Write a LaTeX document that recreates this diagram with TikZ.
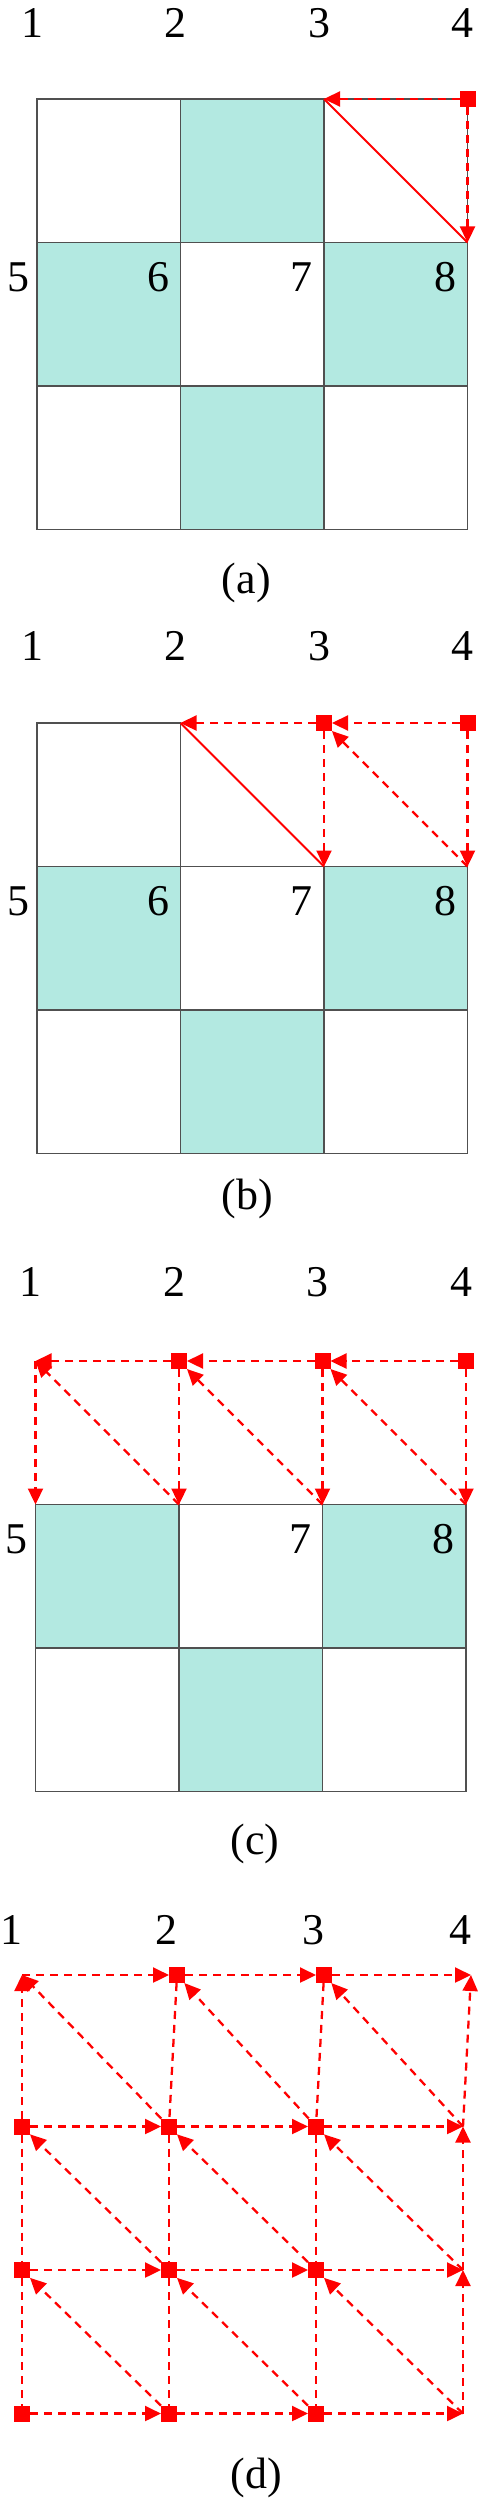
\documentclass[tikz,border=0pt]{standalone}
\usepackage{fontspec}
\setmainfont{Liberation Serif}
\usetikzlibrary{positioning}
\usetikzlibrary{arrows.meta}
\definecolor{aqua}{RGB}{179,233,225}
\definecolor{gridc}{RGB}{80,80,80}

\begin{document}
\begin{tikzpicture}[node distance=2.87cm, on grid,
        cell/.style={draw=gridc, line width=1.1pt, minimum size=2.87cm, inner sep=0pt, outer sep=0pt},
        filled/.style={cell, fill=aqua},
        num/.style={font=\fontsize{25}{30}\selectfont, inner sep=0pt},
        redsq/.style={fill=red, minimum size=0.32cm, inner sep=0pt, outer sep=0pt},
        arr/.style={-{Triangle[length=0.32cm, width=0.3cm]}},
        dline/.style={red, line width=1.3pt, dash pattern=on 0.16cm off 0.12cm},
        sline/.style={red, line width=1.1pt}]
        \useasboundingbox (0,0) rectangle (9.58,-50);

        % (a)
        \node[cell] (a11) at (2.175,-3.415) {};
        \node[filled, right=of a11] (a12) {};
        \node[cell, right=of a12] (a13) {};
        \node[filled, below=of a11] (a21) {};
        \node[cell, right=of a21] (a22) {};
        \node[filled, right=of a22] (a23) {};
        \node[cell, below=of a21] (a31) {};
        \node[filled, right=of a31] (a32) {};
        \node[cell, right=of a32] (a33) {};

        \node[num, above left=1.52cm and 0.1cm of a11.north west, anchor=center] (a-l1) {1};
        \node[num, above left=1.52cm and 0.1cm of a11.north east, anchor=center] (a-l2) {2};
        \node[num, above left=1.52cm and 0.1cm of a12.north east, anchor=center] (a-l3) {3};
        \node[num, above left=1.52cm and 0.1cm of a13.north east, anchor=center] (a-l4) {4};
        \node[num, below left=0.69cm and 0.38cm of a21.north west, anchor=center] (a-l5) {5};
        \node[num, below left=0.69cm and 0.45cm of a21.north east, anchor=center] (a-l6) {6};
        \node[num, below left=0.69cm and 0.45cm of a22.north east, anchor=center] (a-l7) {7};
        \node[num, below left=0.69cm and 0.45cm of a23.north east, anchor=center] (a-l8) {8};
        \node[num, below left=1.06cm and 0.12cm of a32.south, anchor=center] (a-cap) {(a)};

        \node[redsq] (a4) at (a13.north east) {};
        \coordinate (a3) at (a12.north east);
        \coordinate (a8) at (a23.north east);
        \path[dline, arr] (a4) edge (a3) (a4) edge (a8);
        \draw[sline] (a3) -- (a8);

        % (b)
        \node[cell] (b11) at (2.175,-15.895) {};
        \node[filled, below=of b11] (b21) {};
        \node[cell, right=of b21] (b22) {};
        \node[filled, right=of b22] (b23) {};
        \node[cell, below=of b21] (b31) {};
        \node[filled, right=of b31] (b32) {};
        \node[cell, right=of b32] (b33) {};

        \coordinate (b2) at (b11.north east);
        \node[redsq] (b3) at ([yshift=2.87cm]b22.north east) {};
        \node[redsq] (b4) at ([yshift=2.87cm]b23.north east) {};
        \coordinate (b7) at (b22.north east);
        \coordinate (b8) at (b23.north east);

        \node[num, above left=1.54cm and 0.1cm of b11.north west, anchor=center] (b-l1) {1};
        \node[num, above left=1.54cm and 0.1cm of b2, anchor=center] (b-l2) {2};
        \node[num, above left=1.54cm and 0.1cm of b3.center, anchor=center] (b-l3) {3};
        \node[num, above left=1.54cm and 0.1cm of b4.center, anchor=center] (b-l4) {4};
        \node[num, below left=0.69cm and 0.38cm of b21.north west, anchor=center] (b-l5) {5};
        \node[num, below left=0.69cm and 0.45cm of b21.north east, anchor=center] (b-l6) {6};
        \node[num, below left=0.69cm and 0.45cm of b22.north east, anchor=center] (b-l7) {7};
        \node[num, below left=0.69cm and 0.45cm of b23.north east, anchor=center] (b-l8) {8};
        \node[num, below left=0.9cm and 0.1cm of b32.south, anchor=center] (b-cap) {(b)};

        \path[dline, arr] (b4) edge (b3) (b3) edge (b2)
            (b4) edge (b8) (b3) edge (b7) (b8) edge (b3);
        \draw[sline] (b2) -- (b7);

        % (c)
        \node[filled] (c21) at (2.145,-31.525) {};
        \node[cell, right=of c21] (c22) {};
        \node[filled, right=of c22] (c23) {};
        \node[cell, below=of c21] (c31) {};
        \node[filled, right=of c31] (c32) {};
        \node[cell, right=of c32] (c33) {};

        \coordinate (c1) at ([yshift=2.87cm]c21.north west);
        \node[redsq] (c2) at ([yshift=2.87cm]c21.north east) {};
        \node[redsq] (c3) at ([yshift=2.87cm]c22.north east) {};
        \node[redsq] (c4) at ([yshift=2.87cm]c23.north east) {};
        \coordinate (c5) at (c21.north west);
        \coordinate (c6) at (c21.north east);
        \coordinate (c7) at (c22.north east);
        \coordinate (c8) at (c23.north east);

        \node[num, above left=1.58cm and 0.1cm of c1, anchor=center] (c-l1) {1};
        \node[num, above left=1.58cm and 0.1cm of c2.center, anchor=center] (c-l2) {2};
        \node[num, above left=1.58cm and 0.1cm of c3.center, anchor=center] (c-l3) {3};
        \node[num, above left=1.58cm and 0.1cm of c4.center, anchor=center] (c-l4) {4};
        \node[num, below left=0.69cm and 0.38cm of c5, anchor=center] (c-l5) {5};
        \node[num, below left=0.69cm and 0.45cm of c7, anchor=center] (c-l7) {7};
        \node[num, below left=0.69cm and 0.45cm of c8, anchor=center] (c-l8) {8};
        \node[num, below right=1.04cm and 0.08cm of c32.south, anchor=center] (c-cap) {(c)};

        \path[dline, arr] (c4) edge (c3) (c3) edge (c2) (c2) edge (c1)
            (c1) edge (c5) (c2) edge (c6) (c3) edge (c7) (c4) edge (c8)
            (c6) edge (c1) (c7) edge (c2) (c8) edge (c3);

        % (d)
        \coordinate (d11) at (0.44,-39.5);
        \node[redsq, right=2.94cm of d11] (d12) {};
        \node[redsq, right=2.94cm of d12] (d13) {};
        \coordinate[right=2.94cm of d13] (d14);
        \node[redsq, below=of d11] (d21) {};
        \node[redsq, right=2.94cm of d21] (d22) {};
        \node[redsq, right=2.94cm of d22] (d23) {};
        \coordinate[right=2.94cm of d23] (d24);
        \node[redsq, below=of d21] (d31) {};
        \node[redsq, right=2.94cm of d31] (d32) {};
        \node[redsq, right=2.94cm of d32] (d33) {};
        \coordinate[right=2.94cm of d33] (d34);
        \node[redsq, below=of d31] (d41) {};
        \node[redsq, right=2.94cm of d41] (d42) {};
        \node[redsq, right=2.94cm of d42] (d43) {};
        \coordinate[right=2.94cm of d43] (d44);

        \node[num, above left=0.9cm and 0.21cm of d11, anchor=center] (d-l1) {1};
        \node[num, above left=0.9cm and 0.21cm of d12.center, anchor=center] (d-l2) {2};
        \node[num, above left=0.9cm and 0.21cm of d13.center, anchor=center] (d-l3) {3};
        \node[num, above left=0.9cm and 0.21cm of d14, anchor=center] (d-l4) {4};
        \node[num, below right=1.29cm and 1.75cm of d42.center, anchor=center] (d-cap) {(d)};

        % rows
        \path[dline, arr] (d11) edge (d12) (d12) edge (d13) (d13) edge (d14)
            (d21) edge (d22) (d22) edge (d23) (d23) edge (d24)
            (d31) edge (d32) (d32) edge (d33) (d33) edge (d34)
            (d41) edge (d42) (d42) edge (d43) (d43) edge (d44);
        % columns
        \path[dline, arr] (d21) edge (d11) (d24) edge (d14)
            (d34) edge (d24) (d44) edge (d34);
        \path[dline] (d21) edge (d31) (d31) edge (d41)
            (d12) edge (d22) (d22) edge (d32) (d32) edge (d42)
            (d13) edge (d23) (d23) edge (d33) (d33) edge (d43);
        % diagonals
        \path[dline, arr] (d22) edge (d11) (d23) edge (d12) (d24) edge (d13)
            (d32) edge (d21) (d33) edge (d22) (d34) edge (d23)
            (d42) edge (d31) (d43) edge (d32) (d44) edge (d33);

    \end{tikzpicture}
\end{document}
